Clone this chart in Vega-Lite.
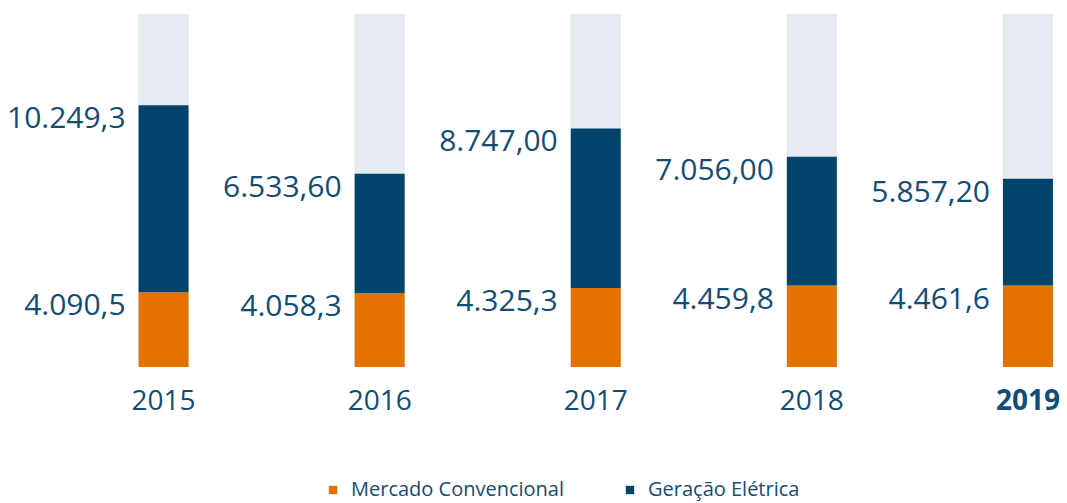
{
  "$schema": "https://vega.github.io/schema/vega-lite/v6.json",
  "width": 1067,
  "height": 503,
  "autosize": "none",
  "padding": 0,
  "background": "white",
  "config": {"view": {"stroke": null}, "font": "Open Sans"},
  "data": {
    "values": [
      {"year": "2015", "serie": "Mercado Convencional", "ord": 1, "value": 4090.5, "label": "4.090,5"},
      {"year": "2015", "serie": "Geração Elétrica", "ord": 2, "value": 10249.3, "label": "10.249,3"},
      {"year": "2016", "serie": "Mercado Convencional", "ord": 1, "value": 4058.3, "label": "4.058,3"},
      {"year": "2016", "serie": "Geração Elétrica", "ord": 2, "value": 6533.6, "label": "6.533,60"},
      {"year": "2017", "serie": "Mercado Convencional", "ord": 1, "value": 4325.3, "label": "4.325,3"},
      {"year": "2017", "serie": "Geração Elétrica", "ord": 2, "value": 8747.0, "label": "8.747,00"},
      {"year": "2018", "serie": "Mercado Convencional", "ord": 1, "value": 4459.8, "label": "4.459,8"},
      {"year": "2018", "serie": "Geração Elétrica", "ord": 2, "value": 7056.0, "label": "7.056,00"},
      {"year": "2019", "serie": "Mercado Convencional", "ord": 1, "value": 4461.6, "label": "4.461,6"},
      {"year": "2019", "serie": "Geração Elétrica", "ord": 2, "value": 5857.2, "label": "5.857,20"}
    ]
  },
  "transform": [
    {"stack": "value", "groupby": ["year"], "sort": [{"field": "ord", "order": "ascending"}], "as": ["y0", "y1"]}
  ],
  "encoding": {
    "x": {
      "field": "year",
      "type": "ordinal",
      "scale": {"range": [55.5, 1136], "paddingInner": 0, "paddingOuter": 0},
      "axis": {
        "title": null,
        "domain": false,
        "ticks": false,
        "offset": -136,
        "labelAngle": 0,
        "labelFontSize": 28,
        "labelColor": "#124d78",
        "labelPadding": 20,
        "labelFontWeight": {"condition": {"test": "datum.value == '2019'", "value": "bold"}, "value": "normal"}
      }
    }
  },
  "layer": [
    {
      "mark": {"type": "bar", "size": 50, "color": "#e6ebf2"},
      "encoding": {
        "y": {"datum": 19340, "type": "quantitative", "scale": {"domain": [0, 19340], "range": [367, 14], "nice": false}, "axis": null},
        "y2": {"datum": 0}
      }
    },
    {
      "mark": {"type": "bar", "size": 50},
      "encoding": {
        "y": {"field": "y0", "type": "quantitative"},
        "y2": {"field": "y1"},
        "color": {
          "field": "serie",
          "type": "nominal",
          "sort": ["Mercado Convencional", "Geração Elétrica"],
          "scale": {"domain": ["Mercado Convencional", "Geração Elétrica"], "range": ["#e57200", "#00446e"]},
          "legend": {
            "title": null,
            "orient": "none",
            "direction": "horizontal",
            "legendX": 323,
            "legendY": 480,
            "symbolType": "square",
            "symbolSize": 70,
            "symbolStrokeWidth": 0,
            "labelFontSize": 20,
            "labelLimit": 0,
            "labelColor": "#124d78",
            "labelOffset": 8,
            "columnPadding": 55
          }
        }
      }
    },
    {
      "mark": {"type": "text", "align": "right", "baseline": "middle", "dx": -38, "dy": 14, "fontSize": 30, "color": "#124d78"},
      "encoding": {
        "y": {"field": "y1", "type": "quantitative"},
        "text": {"field": "label"}
      }
    }
  ]
}
